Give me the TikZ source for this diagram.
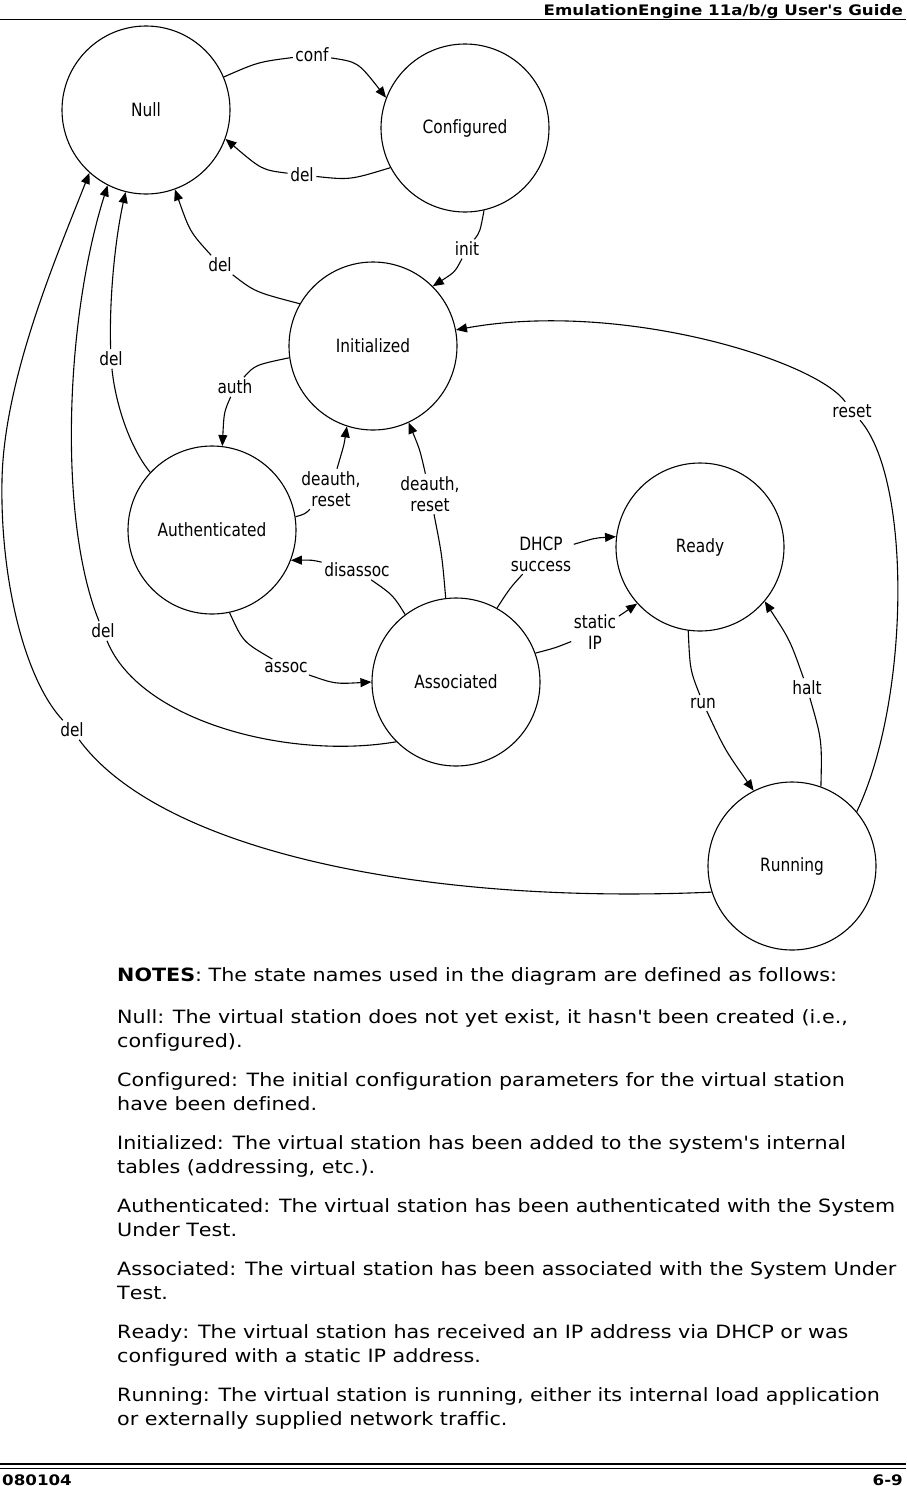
\documentclass[tikz,border=0pt]{standalone}
\usepackage{fontspec}
\setmainfont[Ligatures=NoCommon]{DejaVu Sans}
\newfontfamily\diagfont[FakeStretch=0.84,Ligatures=NoCommon,Kerning=Off]{DejaVu Sans}
\newfontfamily\notefont[FakeStretch=1.13,Ligatures=NoCommon,Kerning=Off]{DejaVu Sans}
\newfontfamily\headfont[FakeStretch=1.15,Ligatures=NoCommon,Kerning=Off]{DejaVu Sans}
\usetikzlibrary{arrows.meta}
\begin{document}
\begin{tikzpicture}[x=1pt,y=-1pt,
  state/.style={circle, draw, line width=1.1pt, minimum size=168pt, inner sep=0pt,
    font=\diagfont\fontsize{18.3}{21}\selectfont},
  lbl/.style={inner sep=2.5pt, align=center, font=\diagfont\fontsize{18.3}{21}\selectfont},
  edge/.style={line width=1.1pt},
  arr/.style={edge, -{Triangle[length=11pt,width=9pt]}},
  notetext/.style={anchor=base west, inner sep=0pt, font=\notefont\fontsize{18.3}{24}\selectfont},
  headtext/.style={inner sep=0pt, font=\headfont\bfseries\fontsize{14.5}{17}\selectfont}
]
\useasboundingbox (0,0) rectangle (906,1486);
\fill[white] (0,0) rectangle (906,1486);

% header / footer
\node[headtext, anchor=base east] (hdr) at (903,15) {EmulationEngine 11a/b/g User's Guide};
\draw[line width=1pt] (0,19.5) -- (906,19.5);
\draw[line width=1.3pt] (0,1464) -- (906,1464);
\draw[line width=0.9pt] (0,1468.5) -- (906,1468.5);
\node[headtext, anchor=base west] (fl) at (2,1485) {080104};
\node[headtext, anchor=base east] (fr) at (903,1485) {6-9};

% states
\node[state] (null)  at (146,110) {Null};
\node[state] (conf)  at (465,128) {Configured};
\node[state] (init)  at (373,346) {Initialized};
\node[state] (auth)  at (212,530) {Authenticated};
\node[state] (assoc) at (456,682) {Associated};
\node[state] (ready) at (700,547) {Ready};
\node[state] (run)   at (792,866) {Running};

% labels
\node[lbl] (lConf)   at (312,55)  {conf};
\node[lbl] (lDelC)   at (302,175) {del};
\node[lbl] (lInit)   at (467,249) {init};
\node[lbl] (lDelI)   at (220,265) {del};
\node[lbl] (lReset)  at (852,411) {reset};
\node[lbl] (lAuth)   at (235,387) {auth};
\node[lbl] (lDeA)    at (331,489) {deauth,\\reset};
\node[lbl] (lDeB)    at (430,494) {deauth,\\reset};
\node[lbl] (lDis)    at (357,570) {disassoc};
\node[lbl] (lAssoc)  at (286,667) {assoc};
\node[lbl] (lDhcp)   at (541,554) {DHCP\\success};
\node[lbl] (lStatic) at (595,632) {static\\IP};
\node[lbl] (lRun)    at (703,703) {run};
\node[lbl] (lHalt)   at (807,688) {halt};
\node[lbl] (lDel1)   at (111,359) {del};
\node[lbl] (lDel2)   at (103,631) {del};
\node[lbl] (lDel3)   at (72,730)  {del};
\coordinate (w17) at (2,480);

% connectors
\draw[edge] (null.23) .. controls (258,62) .. (lConf);
\draw[arr] (lConf) .. controls (358,62) .. (conf.159);
\draw[edge] (conf.-152) .. controls (350,180) .. (lDelC);
\draw[arr] (lDelC) .. controls (262,170) .. (null.-20);
\draw[edge] (conf.-77) .. controls (480,232) .. (lInit);
\draw[arr] (lInit) .. controls (455,272) .. (init.45);
\draw[edge] (init.150) .. controls (255,292) .. (lDelI);
\draw[arr] (lDelI) .. controls (190,232) .. (null.-70);
\draw[edge] (run.40) .. controls (910,700) and (912,480) .. (lReset);
\draw[arr] (lReset) .. controls (815,360) and (620,300) .. (init.11);
\draw[edge] (init.-172) .. controls (255,365) .. (lAuth);
\draw[arr] (lAuth) .. controls (224,412) .. (auth.83);
\draw[edge] (auth.9) .. controls (305,514) .. (lDeA);
\draw[arr] (lDeA) .. controls (344,445) .. (init.-108);
\draw[edge] (assoc.97) .. controls (442,555) .. (lDeB);
\draw[arr] (lDeB) .. controls (420,450) .. (init.-65);
\draw[edge] (assoc.127) .. controls (393,595) .. (lDis);
\draw[arr] (lDis) .. controls (312,560) .. (auth.-21);
\draw[edge] (auth.-78) .. controls (243,642) .. (lAssoc);
\draw[arr] (lAssoc) .. controls (335,684) .. (assoc.180);
\draw[edge] (assoc.61) .. controls (510,588) .. (lDhcp);
\draw[arr] (lDhcp) .. controls (595,538) .. (ready.173);
\draw[edge] (assoc.20) .. controls (555,648) .. (lStatic);
\draw[arr] (lStatic) .. controls (625,612) .. (ready.-138);
\draw[edge] (ready.-98) .. controls (690,670) .. (lRun);
\draw[arr] (lRun) .. controls (725,750) .. (run.117);
\draw[edge] (run.70) .. controls (822,740) .. (lHalt);
\draw[arr] (lHalt) .. controls (790,640) .. (ready.-40);
\draw[edge] (auth.137) .. controls (128,445) and (115,400) .. (lDel1);
\draw[arr] (lDel1) .. controls (109,300) and (115,240) .. (null.-104);
\draw[edge] (assoc.-135) .. controls (290,760) and (140,722) .. (lDel2);
\draw[arr] (lDel2) .. controls (58,520) and (65,320) .. (null.-117);
\draw[edge] (run.-162) .. controls (420,905) and (160,850) .. (lDel3);
\draw[arr] (lDel3) .. controls (25,680) and (0,580) .. (w17) .. controls (4,380) and (55,260) .. (null.-132);

% notes
\node[notetext] (n0) at (117,981) {{\bfseries NOTES}: The state names used in the diagram are defined as follows:};
\node[notetext] (n1) at (117,1023) {Null: The virtual station does not yet exist, it hasn't been created (i.e.,};
\node[notetext] (n1b) at (117,1047) {configured).};
\node[notetext] (n2) at (117,1086) {Configured: The initial configuration parameters for the virtual station};
\node[notetext] (n2b) at (117,1110) {have been defined.};
\node[notetext] (n3) at (117,1149) {Initialized: The virtual station has been added to the system's internal};
\node[notetext] (n3b) at (117,1173) {tables (addressing, etc.).};
\node[notetext] (n4) at (117,1212) {Authenticated: The virtual station has been authenticated with the System};
\node[notetext] (n4b) at (117,1236) {Under Test.};
\node[notetext] (n5) at (117,1275) {Associated: The virtual station has been associated with the System Under};
\node[notetext] (n5b) at (117,1299) {Test.};
\node[notetext] (n6) at (117,1338) {Ready: The virtual station has received an IP address via DHCP or was};
\node[notetext] (n6b) at (117,1362) {configured with a static IP address.};
\node[notetext] (n7) at (117,1401) {Running: The virtual station is running, either its internal load application};
\node[notetext] (n7b) at (117,1425) {or externally supplied network traffic.};
\end{tikzpicture}
\end{document}
